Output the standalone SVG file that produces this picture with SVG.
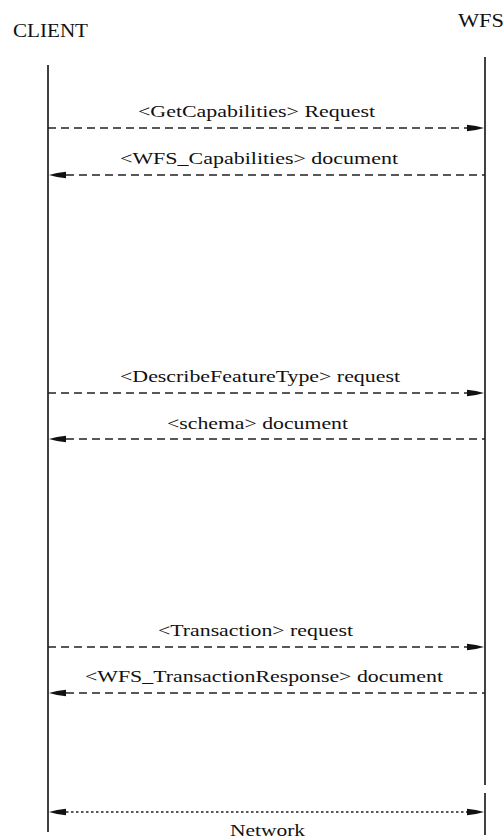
<svg xmlns="http://www.w3.org/2000/svg" width="504" height="840" viewBox="0 0 504 840">
<style>
text{font-family:"Liberation Serif","Times New Roman",serif;fill:#111}
.lbl{font-size:16px}
.life{stroke:#111;stroke-width:1.6;fill:none}
.msg{stroke:#222;stroke-width:1.3;stroke-dasharray:8 5;fill:none}
.net{stroke:#222;stroke-width:1.3;stroke-dasharray:2.5 2.5;fill:none}
.head{fill:#111}
</style>
<defs>
<path id="hr" d="M484,0 L476,-2 L467,-3.2 L467,3.2 L476,2 Z"/>
<path id="hl" d="M49,0 L57,-2 L66,-3.2 L66,3.2 L57,2 Z"/>
</defs>
<rect width="504" height="840" fill="#fff"/>
<g id="client">
<text x="13" y="37" font-size="18" textLength="75" lengthAdjust="spacingAndGlyphs">CLIENT</text>
<line class="life" x1="48" y1="65" x2="48" y2="832"/>
</g>
<g id="wfs">
<text x="458" y="27" font-size="18" textLength="46" lengthAdjust="spacingAndGlyphs">WFS</text>
<line class="life" x1="485" y1="57" x2="485" y2="785"/>
<line class="life" x1="485" y1="793" x2="485" y2="835"/>
</g>
<g id="connectors">
<g id="m1">
<line class="msg" x1="48" y1="128" x2="468" y2="128"/>
<use href="#hr" class="head" y="128"/>
<text class="lbl" x="138" y="117" textLength="237" lengthAdjust="spacingAndGlyphs">&lt;GetCapabilities&gt; Request</text>
</g>
<g id="m2">
<line class="msg" x1="66" y1="175" x2="485" y2="175"/>
<use href="#hl" class="head" y="175"/>
<text class="lbl" x="120" y="164" textLength="278" lengthAdjust="spacingAndGlyphs">&lt;WFS_Capabilities&gt; document</text>
</g>
<g id="m3">
<line class="msg" x1="48" y1="393" x2="468" y2="393"/>
<use href="#hr" class="head" y="393"/>
<text class="lbl" x="120" y="382" textLength="280" lengthAdjust="spacingAndGlyphs">&lt;DescribeFeatureType&gt; request</text>
</g>
<g id="m4">
<line class="msg" x1="66" y1="439" x2="485" y2="439"/>
<use href="#hl" class="head" y="439"/>
<text class="lbl" x="167" y="429" textLength="181" lengthAdjust="spacingAndGlyphs">&lt;schema&gt; document</text>
</g>
<g id="m5">
<line class="msg" x1="48" y1="647" x2="468" y2="647"/>
<use href="#hr" class="head" y="647"/>
<text class="lbl" x="158" y="636" textLength="195" lengthAdjust="spacingAndGlyphs">&lt;Transaction&gt; request</text>
</g>
<g id="m6">
<line class="msg" x1="66" y1="693" x2="485" y2="693"/>
<use href="#hl" class="head" y="693"/>
<text class="lbl" x="85" y="682" textLength="358" lengthAdjust="spacingAndGlyphs">&lt;WFS_TransactionResponse&gt; document</text>
</g>
<g id="network">
<line class="net" x1="66" y1="812" x2="467" y2="812"/>
<use href="#hl" class="head" y="812"/>
<use href="#hr" class="head" y="812"/>
<text x="230" y="836" font-size="16" textLength="75" lengthAdjust="spacingAndGlyphs">Network</text>
</g>
</g>
</svg>
